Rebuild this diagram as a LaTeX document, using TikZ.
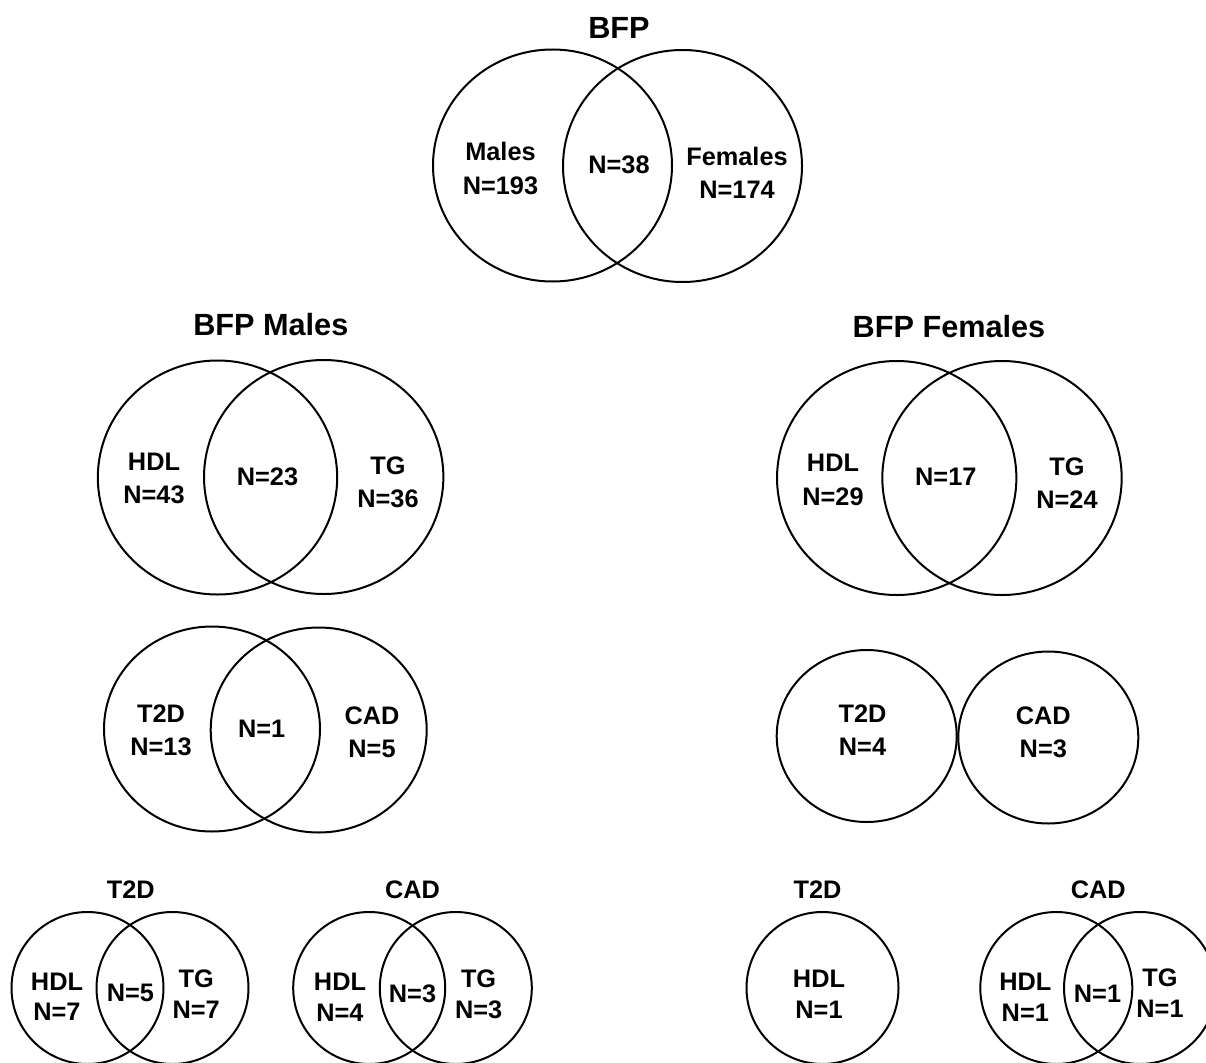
\documentclass[tikz,border=0pt]{standalone}
\usepackage{fontspec}
\setmainfont{Liberation Sans}
\usetikzlibrary{shapes, positioning}

\begin{document}
\begin{tikzpicture}[x=0.75pt, y=-0.75pt, line width=1.5pt, font=\fontsize{19}{25}\selectfont\bfseries,
    lbl/.style={align=center},
    lblsm/.style={align=center, font=\fontsize{19}{23}\selectfont\bfseries},
    ttl/.style={font=\fontsize{23}{28}\selectfont\bfseries}]
\useasboundingbox (0,0) rectangle (1206,1063);
\clip (0,0) rectangle (1206,1063);

\begin{scope}[minimum width=179.25pt, minimum height=174pt, inner sep=0pt]
    \node[draw, ellipse] (bfp-m) at (552.5,165.5) {};
    \node[draw, ellipse] (bfp-f) at (682.5,166) {};
\end{scope}
\node[ttl] (bfp-title) at (619,28) {BFP};
\node[lbl] (bfp-m-lbl) at (500.5,168.3) {Males\\N=193};
\node[lbl] (bfp-mf-lbl) at (619,165) {N=38};
\node[lbl] (bfp-f-lbl) at (737,172.5) {Females\\N=174};

\begin{scope}[minimum width=179.5pt, minimum height=175.5pt, inner sep=0pt]
    \node[draw, ellipse] (m-hdl) at (217.5,477.5) {};
    \node[draw, ellipse] (m-tg) at (323.7,477) {};
    \node[draw, ellipse] (f-hdl) at (896.7,478) {};
    \node[draw, ellipse] (f-tg) at (1002,478) {};
\end{scope}
\node[ttl] (m-title) at (270.8,325) {BFP Males};
\node[lbl] (m-hdl-lbl) at (154,478.3) {HDL\\N=43};
\node[lbl] (m-both-lbl) at (267.5,476.7) {N=23};
\node[lbl] (m-tg-lbl) at (388,482.5) {TG\\N=36};
\node[ttl] (f-title) at (949,326.7) {BFP Females};
\node[lbl] (f-hdl-lbl) at (833,480) {HDL\\N=29};
\node[lbl] (f-both-lbl) at (945.8,476.7) {N=17};
\node[lbl] (f-tg-lbl) at (1067,483.3) {TG\\N=24};

\begin{scope}[minimum width=162pt, minimum height=153.75pt, inner sep=0pt]
    \node[draw, ellipse] (m-t2d) at (212,729) {};
    \node[draw, ellipse] (m-cad) at (318.7,730) {};
\end{scope}
\node[lbl] (m-t2d-lbl) at (161,730) {T2D\\N=13};
\node[lbl] (m-dis-lbl) at (261.7,728.3) {N=1};
\node[lbl] (m-cad-lbl) at (372,732.5) {CAD\\N=5};

\begin{scope}[minimum width=135pt, minimum height=129pt, inner sep=0pt]
    \node[draw, ellipse] (f-t2d) at (866.7,736) {};
    \node[draw, ellipse] (f-cad) at (1048.3,737.5) {};
\end{scope}
\node[lbl] (f-t2d-lbl) at (862.5,730) {T2D\\N=4};
\node[lbl] (f-cad-lbl) at (1043.3,732.5) {CAD\\N=3};

\begin{scope}[minimum size=114pt, inner sep=0pt]
    \node[draw, circle] (mt2d-hdl) at (87.5,988) {};
    \node[draw, circle] (mt2d-tg) at (172.5,988) {};
    \node[draw, circle] (mcad-hdl) at (369.2,988) {};
    \node[draw, circle] (mcad-tg) at (455.8,988) {};
    \node[draw, circle] (ft2d-hdl) at (822.5,988) {};
    \node[draw, circle] (fcad-hdl) at (1056.3,988) {};
    \node[draw, circle] (fcad-tg) at (1140,988) {};
\end{scope}
\node (mt2d-title) at (130.8,890) {T2D};
\node[lblsm] (mt2d-hdl-lbl) at (57,996.7) {HDL\\N=7};
\node[lblsm] (mt2d-both-lbl) at (130.5,993.3) {N=5};
\node[lblsm] (mt2d-tg-lbl) at (196.2,994.2) {TG\\N=7};
\node (mcad-title) at (412.5,890) {CAD};
\node[lblsm] (mcad-hdl-lbl) at (340,997.5) {HDL\\N=4};
\node[lblsm] (mcad-both-lbl) at (412.5,993.3) {N=3};
\node[lblsm] (mcad-tg-lbl) at (478.6,994.2) {TG\\N=3};
\node (ft2d-title) at (817.5,890) {T2D};
\node[lblsm] (ft2d-hdl-lbl) at (819,994.2) {HDL\\N=1};
\node (fcad-title) at (1098.3,890) {CAD};
\node[lblsm] (fcad-hdl-lbl) at (1025.3,997.5) {HDL\\N=1};
\node[lblsm] (fcad-both-lbl) at (1097.5,993.3) {N=1};
\node[lblsm] (fcad-tg-lbl) at (1160,993.3) {TG\\N=1};

\end{tikzpicture}
\end{document}
